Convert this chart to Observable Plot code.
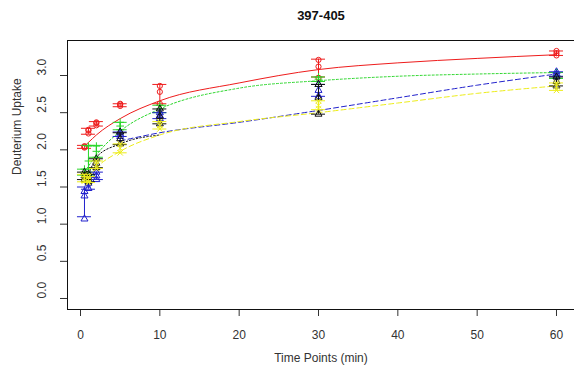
<!DOCTYPE html>
<html>
<head>
<meta charset="utf-8">
<script src="https://cdn.jsdelivr.net/npm/d3@7"></script>
<script src="https://cdn.jsdelivr.net/npm/@observablehq/plot@0.6"></script>
<style>
  html, body { margin: 0; padding: 0; background: #fff; }
  #chart { width: 574px; height: 376px; }
  svg { display: block; }
</style>
</head>
<body>
<div id="chart"></div>
<script>
// ---------- data ----------
const title = "397-405";
const xLabel = "Time Points (min)";
const yLabel = "Deuterium Uptake";
const xTicks = [0, 10, 20, 30, 40, 50, 60];
const yTicks = [0, 0.5, 1, 1.5, 2, 2.5, 3];

const times = [0.5, 1, 2, 5, 10, 30, 60];

const seriesNames = ["red", "green", "blue", "black", "yellow"];
const seriesColors = ["#ee1c1c", "#2ad62a", "#2020cc", "#111111", "#eded1a"];
const seriesSymbols = ["circle", "plus", "triangle", "triangle", "times"];
const seriesDash = [null, "2,2", "5,3", "1.5,2", "5,3"];

// means and standard deviations at each time point
const redMean    = [2.04, 2.25, 2.35, 2.60, 2.75, 3.10, 3.30];
const redSd      = [0.02, 0.04, 0.03, 0.02, 0.13, 0.12, 0.03];
const greenMean  = [1.70, 1.86, 1.98, 2.32, 2.55, 2.95, 3.00];
const greenSd    = [0.04, 0.20, 0.08, 0.05, 0.05, 0.03, 0.04];
const blueMean   = [1.30, 1.55, 1.65, 2.21, 2.46, 2.80, 3.02];
const blueSd     = [0.20, 0.08, 0.05, 0.03, 0.04, 0.08, 0.03];
const blackMean  = [1.65, 1.62, 1.82, 2.15, 2.45, 2.68, 2.92];
const blackSd    = [0.05, 0.05, 0.06, 0.08, 0.10, 0.20, 0.06];
const yellowMean = [1.62, 1.60, 1.80, 2.02, 2.33, 2.60, 2.85];
const yellowSd   = [0.05, 0.04, 0.05, 0.06, 0.05, 0.06, 0.05];

// replicate measurements at each time point
const redReps    = [[2.03,2.05,2.04],[2.22,2.27,2.26],[2.33,2.36,2.37],[2.59,2.61,2.62],[2.62,2.78,2.86],[2.97,3.12,3.21],[3.27,3.30,3.33]];
const greenReps  = [[1.66,1.70,1.74],[1.70,1.85,2.05],[1.90,1.98,2.05],[2.27,2.32,2.37],[2.50,2.55,2.60],[2.92,2.95,2.98],[2.97,3.00,3.04]];
const blueReps   = [[1.07,1.38,1.44],[1.48,1.55,1.62],[1.60,1.65,1.70],[2.18,2.21,2.24],[2.42,2.46,2.50],[2.72,2.80,2.88],[2.99,3.02,3.05]];
const blackReps  = [[1.60,1.65,1.70],[1.57,1.62,1.67],[1.76,1.82,1.88],[2.08,2.15,2.24],[2.35,2.45,2.55],[2.48,2.70,2.88],[2.86,2.92,2.98]];
const yellowReps = [[1.58,1.62,1.66],[1.56,1.60,1.64],[1.75,1.80,1.85],[1.96,2.02,2.08],[2.28,2.33,2.38],[2.55,2.60,2.66],[2.80,2.85,2.90]];

// fitted uptake curves, read at these times
const fitTimes = [0.5, 1, 2, 5, 10, 20, 30, 40, 50, 60];
const redFit    = [2.05, 2.10, 2.20, 2.42, 2.66, 2.90, 3.08, 3.17, 3.23, 3.28];
const greenFit  = [1.70, 1.78, 1.93, 2.25, 2.55, 2.83, 2.93, 2.99, 3.02, 3.04];
const blueFit   = [null, null, null, 2.12, 2.23, 2.37, 2.53, 2.70, 2.87, 3.02];
const blackFit  = [1.60, 1.68, 1.90, 2.08, 2.20, null, null, null, null, null];
const yellowFit = [1.60, 1.64, 1.76, 1.98, 2.20, 2.38, 2.50, 2.63, 2.76, 2.86];

// ---------- build tables ----------
const means = [redMean, greenMean, blueMean, blackMean, yellowMean];
const sds = [redSd, greenSd, blueSd, blackSd, yellowSd];
const reps = [redReps, greenReps, blueReps, blackReps, yellowReps];
const fits = [redFit, greenFit, blueFit, blackFit, yellowFit];

const barRows = [];
const pointRows = [];
const fitRows = [];
seriesNames.forEach((s, k) => {
  times.forEach((t, i) => {
    barRows.push({s, k, t, lo: means[k][i] - sds[k][i], hi: means[k][i] + sds[k][i]});
    reps[k][i].forEach(v => pointRows.push({s, k, t, v}));
  });
  fitTimes.forEach((t, i) => {
    if (fits[k][i] != null) fitRows.push({s, k, t, v: fits[k][i]});
  });
});

const font = "'Liberation Sans', Arial, Helvetica, sans-serif";
const textColor = "#333";

const marks = [];

// fitted curves
seriesNames.forEach((s, k) => {
  marks.push(Plot.line(fitRows.filter(d => d.k === k), {
    x: "t", y: "v", curve: "monotone-x",
    stroke: seriesColors[k], strokeWidth: 1,
    strokeDasharray: seriesDash[k]
  }));
});

// error bars + points
seriesNames.forEach((s, k) => {
  const bars = barRows.filter(d => d.k === k);
  marks.push(Plot.ruleX(bars, {x: "t", y1: "lo", y2: "hi", stroke: seriesColors[k], strokeWidth: 1}));
  marks.push(Plot.ruleY(bars, {y: "lo", x1: "t", x2: "t", insetLeft: -7, insetRight: -7, stroke: seriesColors[k], strokeWidth: 1}));
  marks.push(Plot.ruleY(bars, {y: "hi", x1: "t", x2: "t", insetLeft: -7, insetRight: -7, stroke: seriesColors[k], strokeWidth: 1}));
  marks.push(Plot.dot(pointRows.filter(d => d.k === k), {
    x: "t", y: "v", symbol: () => seriesSymbols[k], r: 2.6,
    stroke: seriesColors[k], fill: "none", strokeWidth: 1
  }));
});

// axes
marks.push(Plot.axisX({ticks: xTicks, tickSize: 7, tickPadding: 14, fontSize: 12, label: null, tickFormat: d => String(d), color: textColor}));
marks.push(Plot.axisY({ticks: yTicks, tickSize: 7, label: null, tickFormat: () => ""}));
marks.push(Plot.text(yTicks, {
  y: d => d, text: d => d.toFixed(1), frameAnchor: "left", dx: -25, rotate: -90,
  fontSize: 12, fill: textColor
}));
marks.push(Plot.frame({stroke: "#111", strokeWidth: 1}));

// titles
marks.push(Plot.text([title], {text: d => d, frameAnchor: "top", dy: -30, fontSize: 13, fontWeight: "bold", fill: "#111"}));
marks.push(Plot.text([xLabel], {text: d => d, frameAnchor: "bottom", dy: 52, fontSize: 12, fill: textColor}));
marks.push(Plot.text([yLabel], {text: d => d, frameAnchor: "left", dx: -50, rotate: -90, fontSize: 12, fill: textColor}));

const chart = Plot.plot({
  width: 574,
  height: 376,
  marginLeft: 67,
  marginRight: 0,
  marginTop: 40,
  marginBottom: 67,
  style: {fontFamily: font, background: "#fff", color: textColor, overflow: "visible"},
  x: {domain: [-1.64, 62.27], type: "linear"},
  y: {domain: [-0.148, 3.471], type: "linear"},
  marks
});
document.getElementById("chart").appendChild(chart);
</script>
</body>
</html>
